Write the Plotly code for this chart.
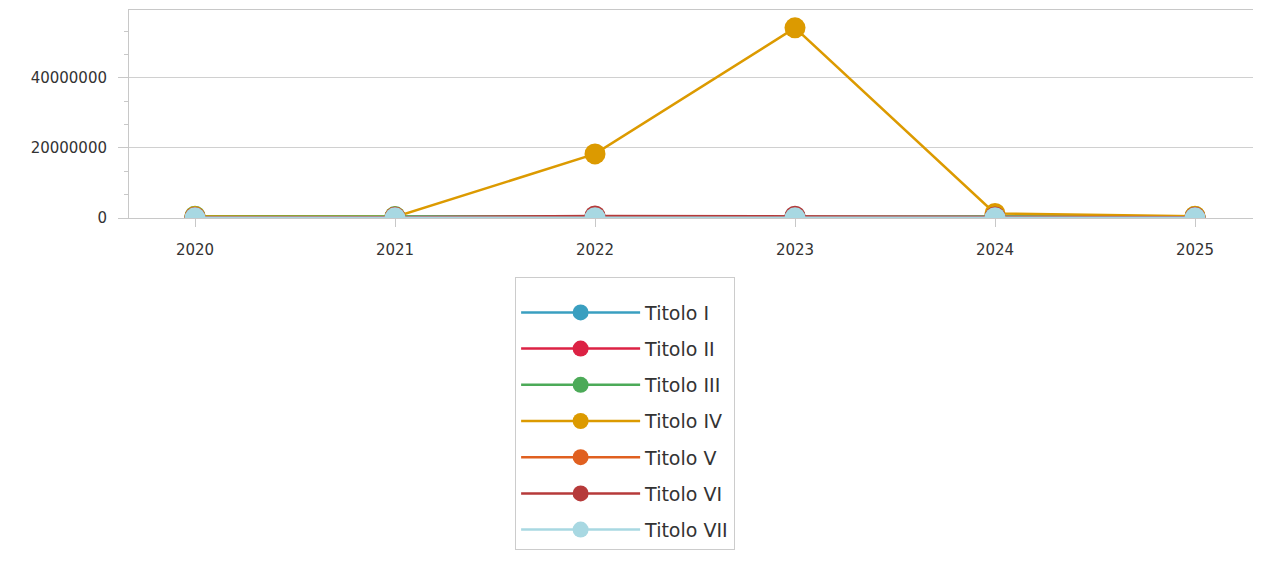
import plotly.graph_objects as go

years = [2020, 2021, 2022, 2023, 2024, 2025]
series_names = ["Titolo I", "Titolo II", "Titolo III", "Titolo IV", "Titolo V", "Titolo VI", "Titolo VII"]
titolo_i = [300000, 250000, 300000, 350000, 300000, 250000]
titolo_ii = [200000, 150000, 250000, 200000, 150000, 200000]
titolo_iii = [500000, 400000, 350000, 300000, 400000, 450000]
titolo_iv = [400000, 300000, 18300000, 54300000, 1300000, 500000]
titolo_v = [100000, 100000, 150000, 100000, 120000, 100000]
titolo_vi = [150000, 200000, 600000, 500000, 300000, 200000]
titolo_vii = [50000, 50000, 60000, 50000, 60000, 50000]
colors = ["#3a9fc0", "#dc2244", "#4caa58", "#dc9a00", "#e06020", "#b63a3a", "#a8d8e2"]
y_ticks = [0, 20000000, 40000000]

all_values = [titolo_i, titolo_ii, titolo_iii, titolo_iv, titolo_v, titolo_vi, titolo_vii]

fig = go.Figure()
for i, (name, vals, col) in enumerate(zip(series_names, all_values, colors)):
    fig.add_trace(go.Scatter(
        x=years, y=vals, name=name, mode="lines+markers",
        line=dict(color=col, width=2.5),
        marker=dict(color=col, size=21, line=dict(width=0)),
        legendgroup=f"g{i}",
    ))

fig.update_layout(
    width=1253, height=557,
    margin=dict(l=121, r=3, t=2, b=347),
    plot_bgcolor="white", paper_bgcolor="white",
    font=dict(family="DejaVu Sans", size=15, color="#333333"),
    showlegend=True,
    legend=dict(
        x=0.342, y=-0.2835, xanchor="left", yanchor="top",
        bordercolor="#cccccc", borderwidth=1,
        font=dict(family="DejaVu Sans", size=19, color="#333333"),
        itemwidth=119, tracegroupgap=8.5, itemsizing="trace",
        title=dict(text=" ", font=dict(size=12)),
    ),
)
fig.update_xaxes(
    range=[2019.67, 2025.315], tickvals=years, ticktext=[str(y) for y in years],
    showline=True, linecolor="#c8c8c8", linewidth=1, mirror=True,
    ticks="outside", ticklen=8, tickcolor="#c8c8c8", ticklabelstandoff=10,
    showgrid=False, zeroline=False,
)
fig.update_yaxes(
    range=[0, 59400000], tickvals=y_ticks, tickformat="d",
    showline=True, linecolor="#c8c8c8", linewidth=1, mirror=True,
    ticks="outside", ticklen=10, tickcolor="#c8c8c8", ticklabelstandoff=8,
    showgrid=True, gridcolor="#d0d0d0", zeroline=False,
    minor=dict(dtick=20000000 / 3, ticks="outside", ticklen=4, tickcolor="#c8c8c8", showgrid=False),
)

fig.write_html("out.html")
